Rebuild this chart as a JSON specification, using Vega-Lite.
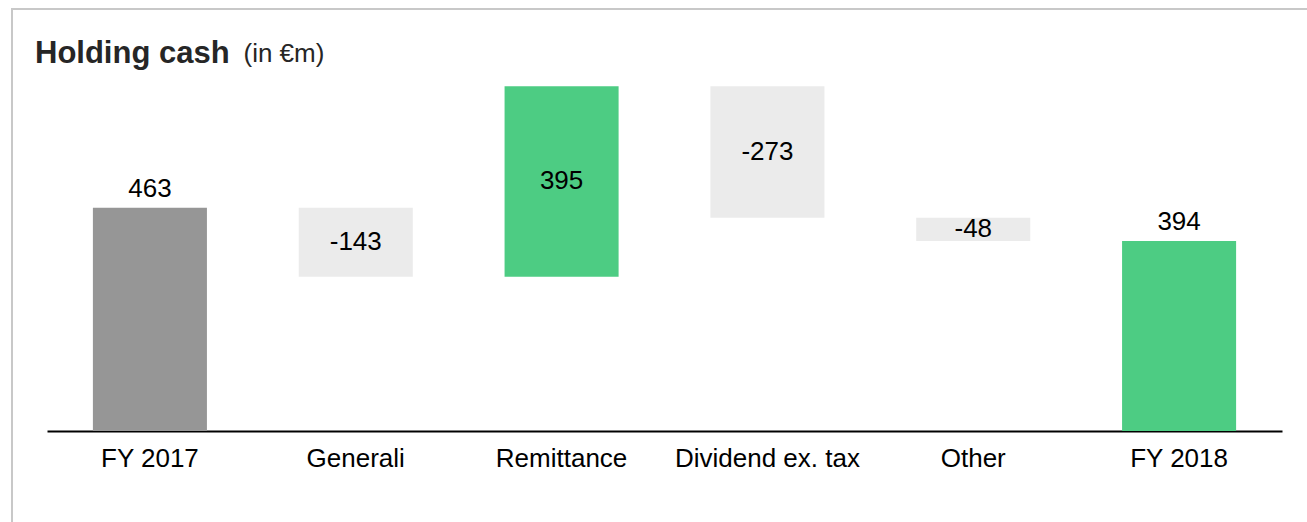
{
  "$schema": "https://vega.github.io/schema/vega-lite/v6.json",
  "width": 1300,
  "height": 518,
  "autosize": "none",
  "padding": {"left": 12, "top": 9, "right": 0, "bottom": 0},
  "config": {
    "view": {"stroke": "#c8c8c8", "strokeWidth": 2},
    "font": "Liberation Sans"
  },
  "title": {
    "text": "Holding cash",
    "anchor": "start",
    "frame": "group",
    "orient": "top",
    "offset": 0,
    "baseline": "alphabetic",
    "dx": 23,
    "dy": 85,
    "fontSize": 31,
    "fontWeight": "bold",
    "color": "#262626",
    "font": "Liberation Sans"
  },
  "data": {
    "values": [
      {"category": "FY 2017", "start": 0, "end": 463, "label": "463", "type": "total"},
      {"category": "Generali", "start": 463, "end": 320, "label": "-143", "type": "negative"},
      {"category": "Remittance", "start": 320, "end": 715, "label": "395", "type": "positive"},
      {"category": "Dividend ex. tax", "start": 715, "end": 442, "label": "-273", "type": "negative"},
      {"category": "Other", "start": 442, "end": 394, "label": "-48", "type": "negative"},
      {"category": "FY 2018", "start": 0, "end": 394, "label": "394", "type": "final"}
    ]
  },
  "encoding": {
    "x": {
      "field": "category",
      "type": "nominal",
      "sort": null,
      "scale": {"range": [35, 1270], "paddingInner": 0.446, "paddingOuter": 0.223},
      "axis": {
        "title": null,
        "orient": "bottom",
        "offset": -96,
        "domainColor": "#000000",
        "domainWidth": 2,
        "ticks": false,
        "labelAngle": 0,
        "labelFontSize": 26,
        "labelColor": "#000000",
        "labelPadding": 14,
        "labelLimit": 400,
        "labelFont": "Liberation Sans",
        "grid": false
      }
    }
  },
  "layer": [
    {
      "mark": {"type": "bar"},
      "encoding": {
        "y": {
          "field": "start",
          "type": "quantitative",
          "scale": {"domain": [0, 800], "range": [422, 36.2], "nice": false, "zero": false},
          "axis": {
            "title": "(in €m)",
            "domain": false,
            "ticks": false,
            "labels": false,
            "grid": false,
            "titleAngle": 0,
            "titleAlign": "left",
            "titleBaseline": "alphabetic",
            "titleX": 231,
            "titleY": 52,
            "titleFontSize": 26,
            "titleFontWeight": "normal",
            "titleColor": "#262626",
            "titleFont": "Liberation Sans"
          }
        },
        "y2": {"field": "end"},
        "color": {
          "field": "type",
          "type": "nominal",
          "scale": {
            "domain": ["total", "negative", "positive", "final"],
            "range": ["#969696", "#ebebeb", "#4dcc83", "#4dcc83"]
          },
          "legend": null
        }
      }
    },
    {
      "transform": [{"filter": "datum.type == 'total' || datum.type == 'final'"}],
      "mark": {"type": "text", "baseline": "alphabetic", "dy": -11, "fontSize": 26, "color": "#000000", "font": "Liberation Sans"},
      "encoding": {
        "y": {"field": "end", "type": "quantitative"},
        "text": {"field": "label", "type": "nominal"}
      }
    },
    {
      "transform": [
        {"filter": "datum.type == 'negative' || datum.type == 'positive'"},
        {"calculate": "(datum.start + datum.end) / 2", "as": "mid"}
      ],
      "mark": {"type": "text", "baseline": "middle", "fontSize": 26, "color": "#000000", "font": "Liberation Sans"},
      "encoding": {
        "y": {"field": "mid", "type": "quantitative"},
        "text": {"field": "label", "type": "nominal"}
      }
    }
  ]
}
